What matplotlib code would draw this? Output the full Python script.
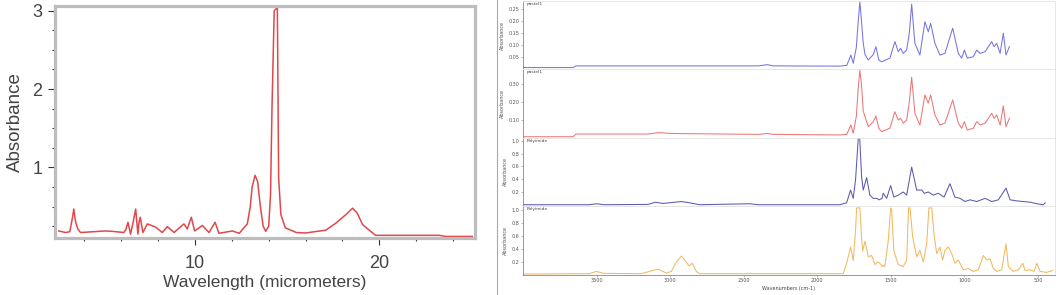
import matplotlib
matplotlib.use('Agg')
from matplotlib import pyplot as plt
from matplotlib.ticker import MultipleLocator, FixedLocator

# Left chart: single IR spectrum vs wavelength
wavelength = [2.6, 2.97, 3.2, 3.35, 3.42, 3.5, 3.55, 3.65, 3.79, 5.15,
              5.5, 6.14, 6.25, 6.36, 6.5, 6.65, 6.78, 6.9, 6.97, 7.03,
              7.17, 7.41, 7.86, 8.22, 8.5, 8.86, 9.4, 9.58, 9.8, 9.98,
              10.4, 10.76, 11.09, 11.3, 12.03, 12.4, 12.84, 13.0, 13.1, 13.26,
              13.4, 13.55, 13.7, 13.84, 14.0, 14.1, 14.18, 14.3, 14.47, 14.54,
              14.66, 14.9, 15.5, 16.0, 17.1, 17.65, 18.2, 18.55, 18.8, 19.1,
              19.8, 23.26, 23.6, 25.05]
absorbance = [0.19, 0.17, 0.18, 0.36, 0.47, 0.33, 0.28, 0.21, 0.17, 0.19,
              0.185, 0.17, 0.21, 0.30, 0.15, 0.31, 0.47, 0.15, 0.31, 0.365,
              0.17, 0.28, 0.24, 0.17, 0.245, 0.17, 0.28, 0.215, 0.365, 0.19,
              0.26, 0.17, 0.30, 0.16, 0.19, 0.16, 0.28, 0.5, 0.75, 0.9,
              0.82, 0.5, 0.25, 0.185, 0.25, 0.65, 1.76, 3.0, 3.04, 0.87,
              0.4, 0.23, 0.17, 0.164, 0.2, 0.29, 0.4, 0.48, 0.42, 0.27,
              0.134, 0.134, 0.12, 0.12]

# Right chart: four stacked spectra vs wavenumber
wn_top = [4000, 3660, 3640, 2400, 2340, 2300, 1850, 1800, 1772, 1756,
          1735, 1722, 1711, 1700, 1688, 1676, 1654, 1620, 1602, 1582,
          1563, 1507, 1473, 1450, 1434, 1416, 1393, 1375, 1359, 1337,
          1303, 1269, 1246, 1230, 1201, 1167, 1133, 1080, 1042, 1019,
          1001, 981, 940, 917, 894, 860, 815, 799, 781, 758,
          736, 718, 695]
pastel_a = [0.006, 0.006, 0.013, 0.013, 0.018, 0.013, 0.012, 0.015, 0.058, 0.024,
            0.09, 0.2, 0.28, 0.2, 0.107, 0.06, 0.0375, 0.06, 0.093, 0.0375,
            0.03, 0.045, 0.114, 0.072, 0.086, 0.065, 0.079, 0.15, 0.27, 0.107,
            0.058, 0.197, 0.155, 0.19, 0.107, 0.058, 0.065, 0.17, 0.065, 0.045,
            0.079, 0.045, 0.051, 0.079, 0.065, 0.072, 0.114, 0.093, 0.107, 0.065,
            0.149, 0.058, 0.093]

wn_red = [4000, 3660, 3640, 3150, 3080, 2990, 2400, 2340, 2300, 1850,
          1800, 1772, 1756, 1735, 1722, 1711, 1700, 1688, 1676, 1654,
          1620, 1602, 1582, 1563, 1507, 1473, 1450, 1434, 1416, 1393,
          1375, 1359, 1337, 1303, 1269, 1246, 1230, 1201, 1167, 1133,
          1080, 1042, 1019, 1001, 981, 940, 917, 894, 860, 815,
          799, 781, 758, 736, 718, 695]
pastel_b = [0.007, 0.007, 0.022, 0.022, 0.03, 0.025, 0.02, 0.025, 0.02, 0.017,
            0.02, 0.072, 0.026, 0.12, 0.28, 0.375, 0.3, 0.15, 0.118, 0.063,
            0.09, 0.122, 0.054, 0.035, 0.054, 0.146, 0.1, 0.109, 0.082, 0.1,
            0.2, 0.337, 0.137, 0.072, 0.239, 0.193, 0.239, 0.128, 0.072, 0.082,
            0.211, 0.082, 0.054, 0.091, 0.044, 0.054, 0.091, 0.072, 0.082, 0.137,
            0.109, 0.128, 0.072, 0.178, 0.063, 0.109]

wn_poly1 = [4000, 3550, 3500, 3450, 3150, 3100, 3050, 2924, 2867, 2800,
            2460, 2400, 1847, 1801, 1774, 1756, 1740, 1722, 1712, 1699,
            1688, 1665, 1643, 1620, 1597, 1580, 1560, 1552, 1529, 1502,
            1480, 1450, 1416, 1393, 1359, 1325, 1291, 1273, 1246, 1212,
            1178, 1139, 1099, 1065, 1030, 996, 962, 917, 860, 815,
            770, 718, 690, 645, 600, 554, 509, 464, 452]
polyimide_a = [0.0, 0.0, 0.015, 0.0, 0.005, 0.04, 0.02, 0.05, 0.03, 0.0,
               0.015, 0.0, 0.0, 0.03, 0.23, 0.1, 0.4, 1.04, 1.04, 0.435,
               0.23, 0.426, 0.15, 0.1, 0.1, 0.077, 0.1, 0.18, 0.1, 0.3,
               0.12, 0.15, 0.2, 0.15, 0.59, 0.23, 0.23, 0.18, 0.2, 0.15,
               0.18, 0.12, 0.33, 0.12, 0.1, 0.05, 0.077, 0.05, 0.1, 0.05,
               0.077, 0.26, 0.077, 0.06, 0.05, 0.04, 0.015, 0.0, 0.03]

wn_poly2 = [4000, 3550, 3502, 3450, 3200, 3139, 3083, 3026, 2992, 2958,
            2924, 2900, 2872, 2849, 2822, 2799, 1824, 1801, 1774, 1756,
            1740, 1733, 1711, 1700, 1692, 1676, 1654, 1631, 1608, 1590,
            1575, 1560, 1552, 1541, 1518, 1502, 1495, 1480, 1450, 1416,
            1393, 1380, 1370, 1352, 1325, 1303, 1280, 1257, 1242, 1223,
            1207, 1189, 1167, 1149, 1133, 1110, 1087, 1065, 1042, 1008,
            974, 940, 906, 872, 849, 826, 804, 781, 747, 718,
            702, 668, 634, 604, 588, 554, 527, 509, 486, 441,
            400]
polyimide_b = [0.015, 0.02, 0.055, 0.025, 0.02, 0.055, 0.09, 0.03, 0.055, 0.2,
               0.29, 0.23, 0.14, 0.18, 0.055, 0.02, 0.02, 0.18, 0.43, 0.22,
               0.7, 1.03, 1.03, 0.6, 0.37, 0.52, 0.28, 0.3, 0.16, 0.2,
               0.18, 0.13, 0.15, 0.13, 0.53, 1.03, 1.0, 0.37, 0.16, 0.13,
               0.23, 1.03, 1.03, 0.58, 0.28, 0.38, 0.2, 0.48, 1.03, 1.03,
               0.63, 0.33, 0.43, 0.23, 0.38, 0.43, 0.33, 0.18, 0.23, 0.08,
               0.1, 0.055, 0.08, 0.3, 0.23, 0.25, 0.1, 0.055, 0.08, 0.48,
               0.13, 0.055, 0.08, 0.18, 0.07, 0.08, 0.055, 0.18, 0.055, 0.04,
               0.07]

panel_names = ['pastel1', 'pastel1', 'Polyimide', 'Polyimide']
wn_ticks = [3500, 3000, 2500, 2000, 1500, 1000, 500]

W, H = 1063, 295


def box(x0, y0, x1, y1):
    # pixel box (top-left origin) -> figure rect
    return [x0 / W, 1 - y1 / H, (x1 - x0) / W, (y1 - y0) / H]


fig = plt.figure(figsize=(W / 100, H / 100), dpi=100)
fig.patch.set_facecolor('white')

# ---- left chart ----
axL = fig.add_axes(box(55, 6, 475, 238))
axL.plot(wavelength, absorbance, color='#e2474a', lw=1.1)
axL.set_xlim(2.4, 25.2)
axL.set_ylim(0.1, 3.06)
axL.xaxis.set_major_locator(FixedLocator([10, 20]))
axL.xaxis.set_minor_locator(MultipleLocator(2))
axL.yaxis.set_major_locator(FixedLocator([1, 2, 3]))
axL.yaxis.set_minor_locator(MultipleLocator(0.25))
for s in axL.spines.values():
    s.set_color('#bdbdbd')
    s.set_linewidth(2.3)
axL.tick_params(which='both', direction='out', color='#333333', labelcolor='#444444',
                labelsize=13, width=0.8)
axL.tick_params(axis='x', which='major', length=5, pad=7.5)
axL.tick_params(axis='y', which='major', length=5, pad=4)
axL.tick_params(which='minor', length=2.5)
for lab in axL.get_xticklabels() + axL.get_yticklabels():
    lab.set_family('Liberation Sans')
axL.set_xlabel('Wavelength (micrometers)', fontsize=12.5, color='#444444',
               family='Liberation Sans', labelpad=2)
axL.set_ylabel('Absorbance', fontsize=13.5, color='#444444',
               family='Liberation Sans', labelpad=6)

# ---- right chart ----
# window border
bg = fig.add_axes(box(497, 0, 1057, 295))
bg.set_xticks([])
bg.set_yticks([])
for k, s in bg.spines.items():
    s.set_visible(k == 'left')
    s.set_color('#aaaaaa')
    s.set_linewidth(0.8)
bg.patch.set_alpha(0)

series = [(wn_top, pastel_a, '#7474e4', (0, 0.283), [0.05, 0.10, 0.15, 0.20, 0.25], '%.2f'),
          (wn_red, pastel_b, '#ec7676', (0, 0.383), [0.10, 0.20, 0.30], '%.2f'),
          (wn_poly1, polyimide_a, '#5a5aae', (-0.02, 1.047), [0.2, 0.4, 0.6, 0.8, 1.0], '%.1f'),
          (wn_poly2, polyimide_b, '#f3b860', (0, 1.06), [0.2, 0.4, 0.6, 0.8, 1.0], '%.1f')]
edges = [1, 69, 138, 206, 275]

for i, (x, y, c, yl, yt, fmt) in enumerate(series):
    ax = fig.add_axes(box(523, edges[i], 1055, edges[i + 1]))
    ax.plot(x, y, color=c, lw=0.75)
    ax.set_xlim(4000, 385)
    ax.set_ylim(*yl)
    ax.set_yticks(yt)
    ax.set_yticklabels([fmt % v for v in yt])
    for k, s in ax.spines.items():
        s.set_linewidth(0.6)
        s.set_color('#888888' if k == 'left' else '#e2e2e2')
    ax.tick_params(labelsize=3.5, length=1.5, width=0.4, color='#888888',
                   labelcolor='#555555', pad=1)
    ax.text(0.006, 0.985, panel_names[i], transform=ax.transAxes, fontsize=3.2,
            va='top', ha='left', color='#444444')
    ax.set_ylabel('Absorbance', fontsize=3.5, color='#555555', labelpad=3)
    if i < 3:
        ax.set_xticks([])
    else:
        ax.set_xticks(wn_ticks)
        ax.xaxis.set_minor_locator(MultipleLocator(100))
        ax.tick_params(which='minor', length=1, width=0.3, color='#999999')
        ax.spines['bottom'].set_color('#888888')
        ax.set_xlabel('Wavenumbers (cm-1)', fontsize=3.5, color='#444444', labelpad=2)

fig.savefig('out.png', dpi=100, facecolor='white')
